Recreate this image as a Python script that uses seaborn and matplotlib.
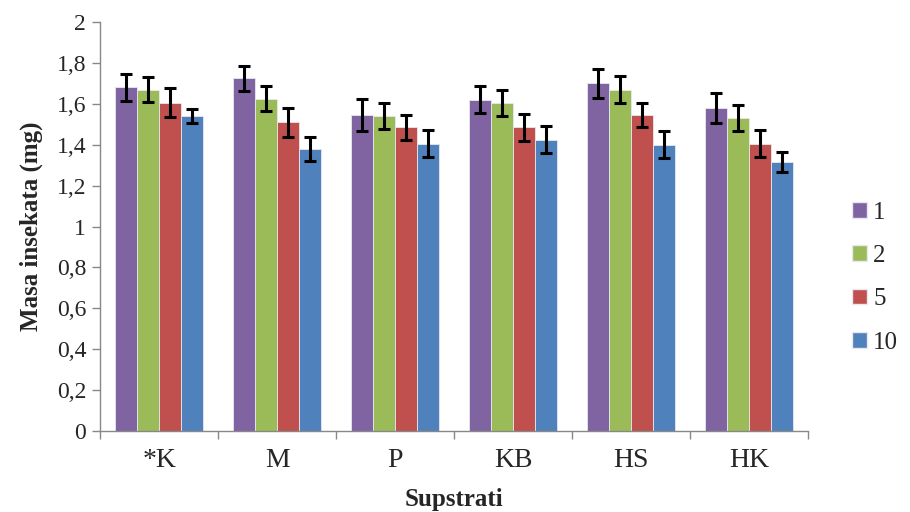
import numpy as np
import pandas as pd
import seaborn as sns
import matplotlib.pyplot as plt
from matplotlib.ticker import FixedLocator, FuncFormatter
from matplotlib.patches import Patch

# Data
substrates = ['*K', 'M', 'P', 'KB', 'HS', 'HK']
groups = ['1', '2', '5', '10']
mass_1 = [1.68, 1.725, 1.545, 1.62, 1.70, 1.58]
mass_2 = [1.67, 1.625, 1.54, 1.605, 1.67, 1.53]
mass_5 = [1.605, 1.51, 1.485, 1.485, 1.545, 1.405]
mass_10 = [1.54, 1.38, 1.405, 1.425, 1.40, 1.315]
err_1 = [0.065, 0.06, 0.078, 0.065, 0.07, 0.075]
err_2 = [0.06, 0.06, 0.065, 0.064, 0.065, 0.065]
err_5 = [0.07, 0.07, 0.06, 0.066, 0.06, 0.065]
err_10 = [0.033, 0.058, 0.066, 0.066, 0.066, 0.048]

colors = ['#8064A2', '#9BBB59', '#C0504D', '#4F81BD']

# Long table for seaborn
rows = []
for g, vals, errs in zip(groups, [mass_1, mass_2, mass_5, mass_10],
                         [err_1, err_2, err_5, err_10]):
    for s, v, e in zip(substrates, vals, errs):
        rows.append({'Supstrati': s, 'grupa': g, 'masa': v, 'err': e})
df = pd.DataFrame(rows)

sns.set_style('white')
plt.rcParams['font.family'] = ['Liberation Serif', 'DejaVu Serif']

fig = plt.figure(figsize=(9.1, 5.12), dpi=100)
ax = fig.add_axes([0.11, 0.158, 0.778, 0.799])

sns.barplot(data=df, x='Supstrati', y='masa', hue='grupa', order=substrates,
            hue_order=groups, palette=colors, errorbar=None, width=0.75,
            saturation=1, edgecolor='#e8e8f0', linewidth=0.6, ax=ax, legend=False)

# Error bars on top of the seaborn bars
for i, g in enumerate(groups):
    container = ax.containers[i]
    sub = df[df['grupa'] == g].set_index('Supstrati').loc[substrates]
    xs = [p.get_x() + p.get_width() / 2 for p in container]
    hs = [p.get_height() for p in container]
    ax.errorbar(xs, hs, yerr=sub['err'].values, fmt='none', ecolor='black',
                elinewidth=2.2, capsize=4.5, capthick=2.2, zorder=5)

ax.set_ylim(0, 2)
ax.set_xlim(-0.5, len(substrates) - 0.5)
ax.set_yticks(np.arange(0, 2.01, 0.2))
ax.yaxis.set_major_formatter(FuncFormatter(
    lambda v, p: ('%g' % round(v, 1)).replace('.', ',')))

# category boundaries get tick marks, labels sit at centres
ax.xaxis.set_major_locator(FixedLocator(np.arange(-0.5, len(substrates), 1)))
ax.xaxis.set_minor_locator(FixedLocator(np.arange(len(substrates))))
ax.set_xticklabels([], minor=False)
ax.set_xticklabels(substrates, minor=True)
ax.tick_params(axis='x', which='major', length=6, color='#888888', width=1)
ax.tick_params(axis='x', which='minor', length=0, pad=12, labelsize=20)
ax.tick_params(axis='y', length=6, color='#888888', width=1, labelsize=17, pad=4)
ax.tick_params(left=True, bottom=True, which='major')

for side in ['top', 'right']:
    ax.spines[side].set_visible(False)
for side in ['left', 'bottom']:
    ax.spines[side].set_color('#888888')
    ax.spines[side].set_linewidth(1)

ax.set_ylabel('Masa insekata (mg)', fontsize=18, fontweight='bold', labelpad=10)
ax.set_xlabel('Supstrati', fontsize=18, fontweight='bold', labelpad=11)

handles = [Patch(facecolor=c, edgecolor='#e8e8f0') for c in colors]
ax.legend(handles, groups, loc='center left', bbox_to_anchor=(1.03, 0.375),
          frameon=False, fontsize=18, handlelength=0.6, handleheight=0.6,
          handletextpad=0.25, labelspacing=0.85)

fig.savefig('out.png', dpi=100)
